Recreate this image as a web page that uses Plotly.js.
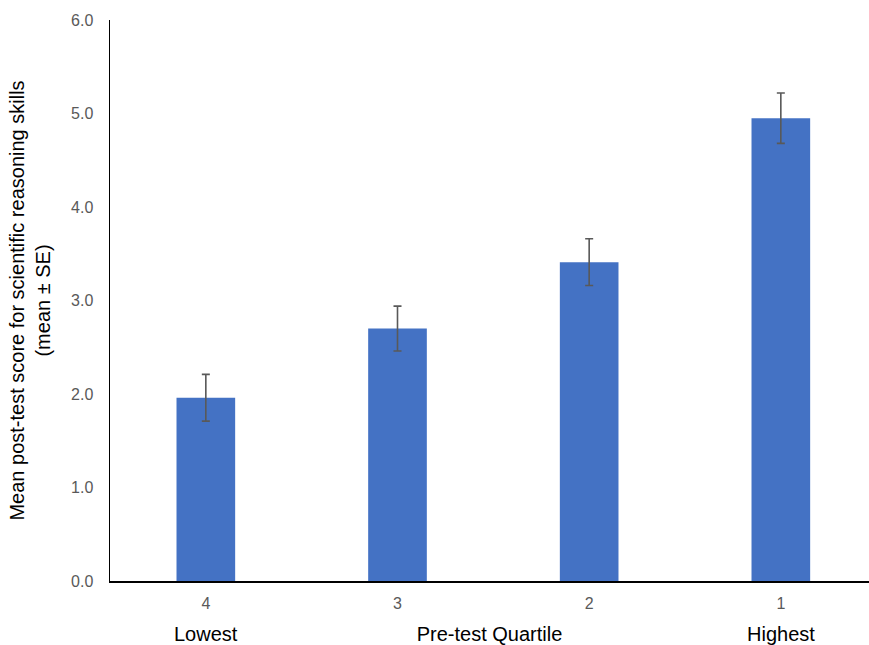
<!DOCTYPE html>
<html><head><meta charset="utf-8">
<script src="https://cdn.plot.ly/plotly-3.0.1.min.js"></script>
<style>html,body{margin:0;padding:0;background:#fff}#chart{width:869px;height:645px}</style>
</head><body><div id="chart"></div>
<script>
const quartiles = ["4", "3", "2", "1"];
const means = [1.96, 2.70, 3.41, 4.95];
const se = [0.25, 0.24, 0.25, 0.27];
const endLabels = ["Lowest", "Highest"];
const endIndex = [0, 3];

const trace = {
  type: "bar",
  x: quartiles,
  y: means,
  width: 0.306,
  marker: {color: "#4472C4"},
  error_y: {type: "data", array: se, visible: true, color: "#595959", thickness: 1.6, width: 4}
};

const annotations = endLabels.map((t, i) => ({
  x: endIndex[i], y: 0, xref: "x", yref: "paper", yanchor: "middle", yshift: -53,
  text: t, showarrow: false, font: {family: "Liberation Sans, Arial", size: 20, color: "#000"}
}));

const layout = {
  width: 869, height: 645,
  margin: {l: 110, r: 0, t: 20, b: 64},
  paper_bgcolor: "#fff", plot_bgcolor: "#fff",
  showlegend: false,
  font: {family: "Liberation Sans, Arial", color: "#595959"},
  xaxis: {
    type: "category", range: [-0.5, 3.46],
    showline: true, linecolor: "#000", linewidth: 1.5,
    ticks: "", tickfont: {size: 16, color: "#595959"},
    ticklabelstandoff: 7,
    showgrid: false, zeroline: false,
    title: {text: "Pre-test Quartile", font: {size: 20, color: "#000"}, standoff: 21}
  },
  yaxis: {
    range: [0, 6], dtick: 1, tickformat: ".1f",
    showline: true, linecolor: "#000", linewidth: 1.5,
    ticks: "", tickfont: {size: 16, color: "#595959"},
    ticklabelstandoff: 12,
    showgrid: false, zeroline: false,
    title: {text: "Mean post-test score for scientific reasoning skills<br>(mean ± SE)", font: {size: 20, color: "#000"}, standoff: 15}
  },
  annotations: annotations
};

Plotly.newPlot("chart", [trace], layout, {displayModeBar: false, staticPlot: true});
</script></body></html>
